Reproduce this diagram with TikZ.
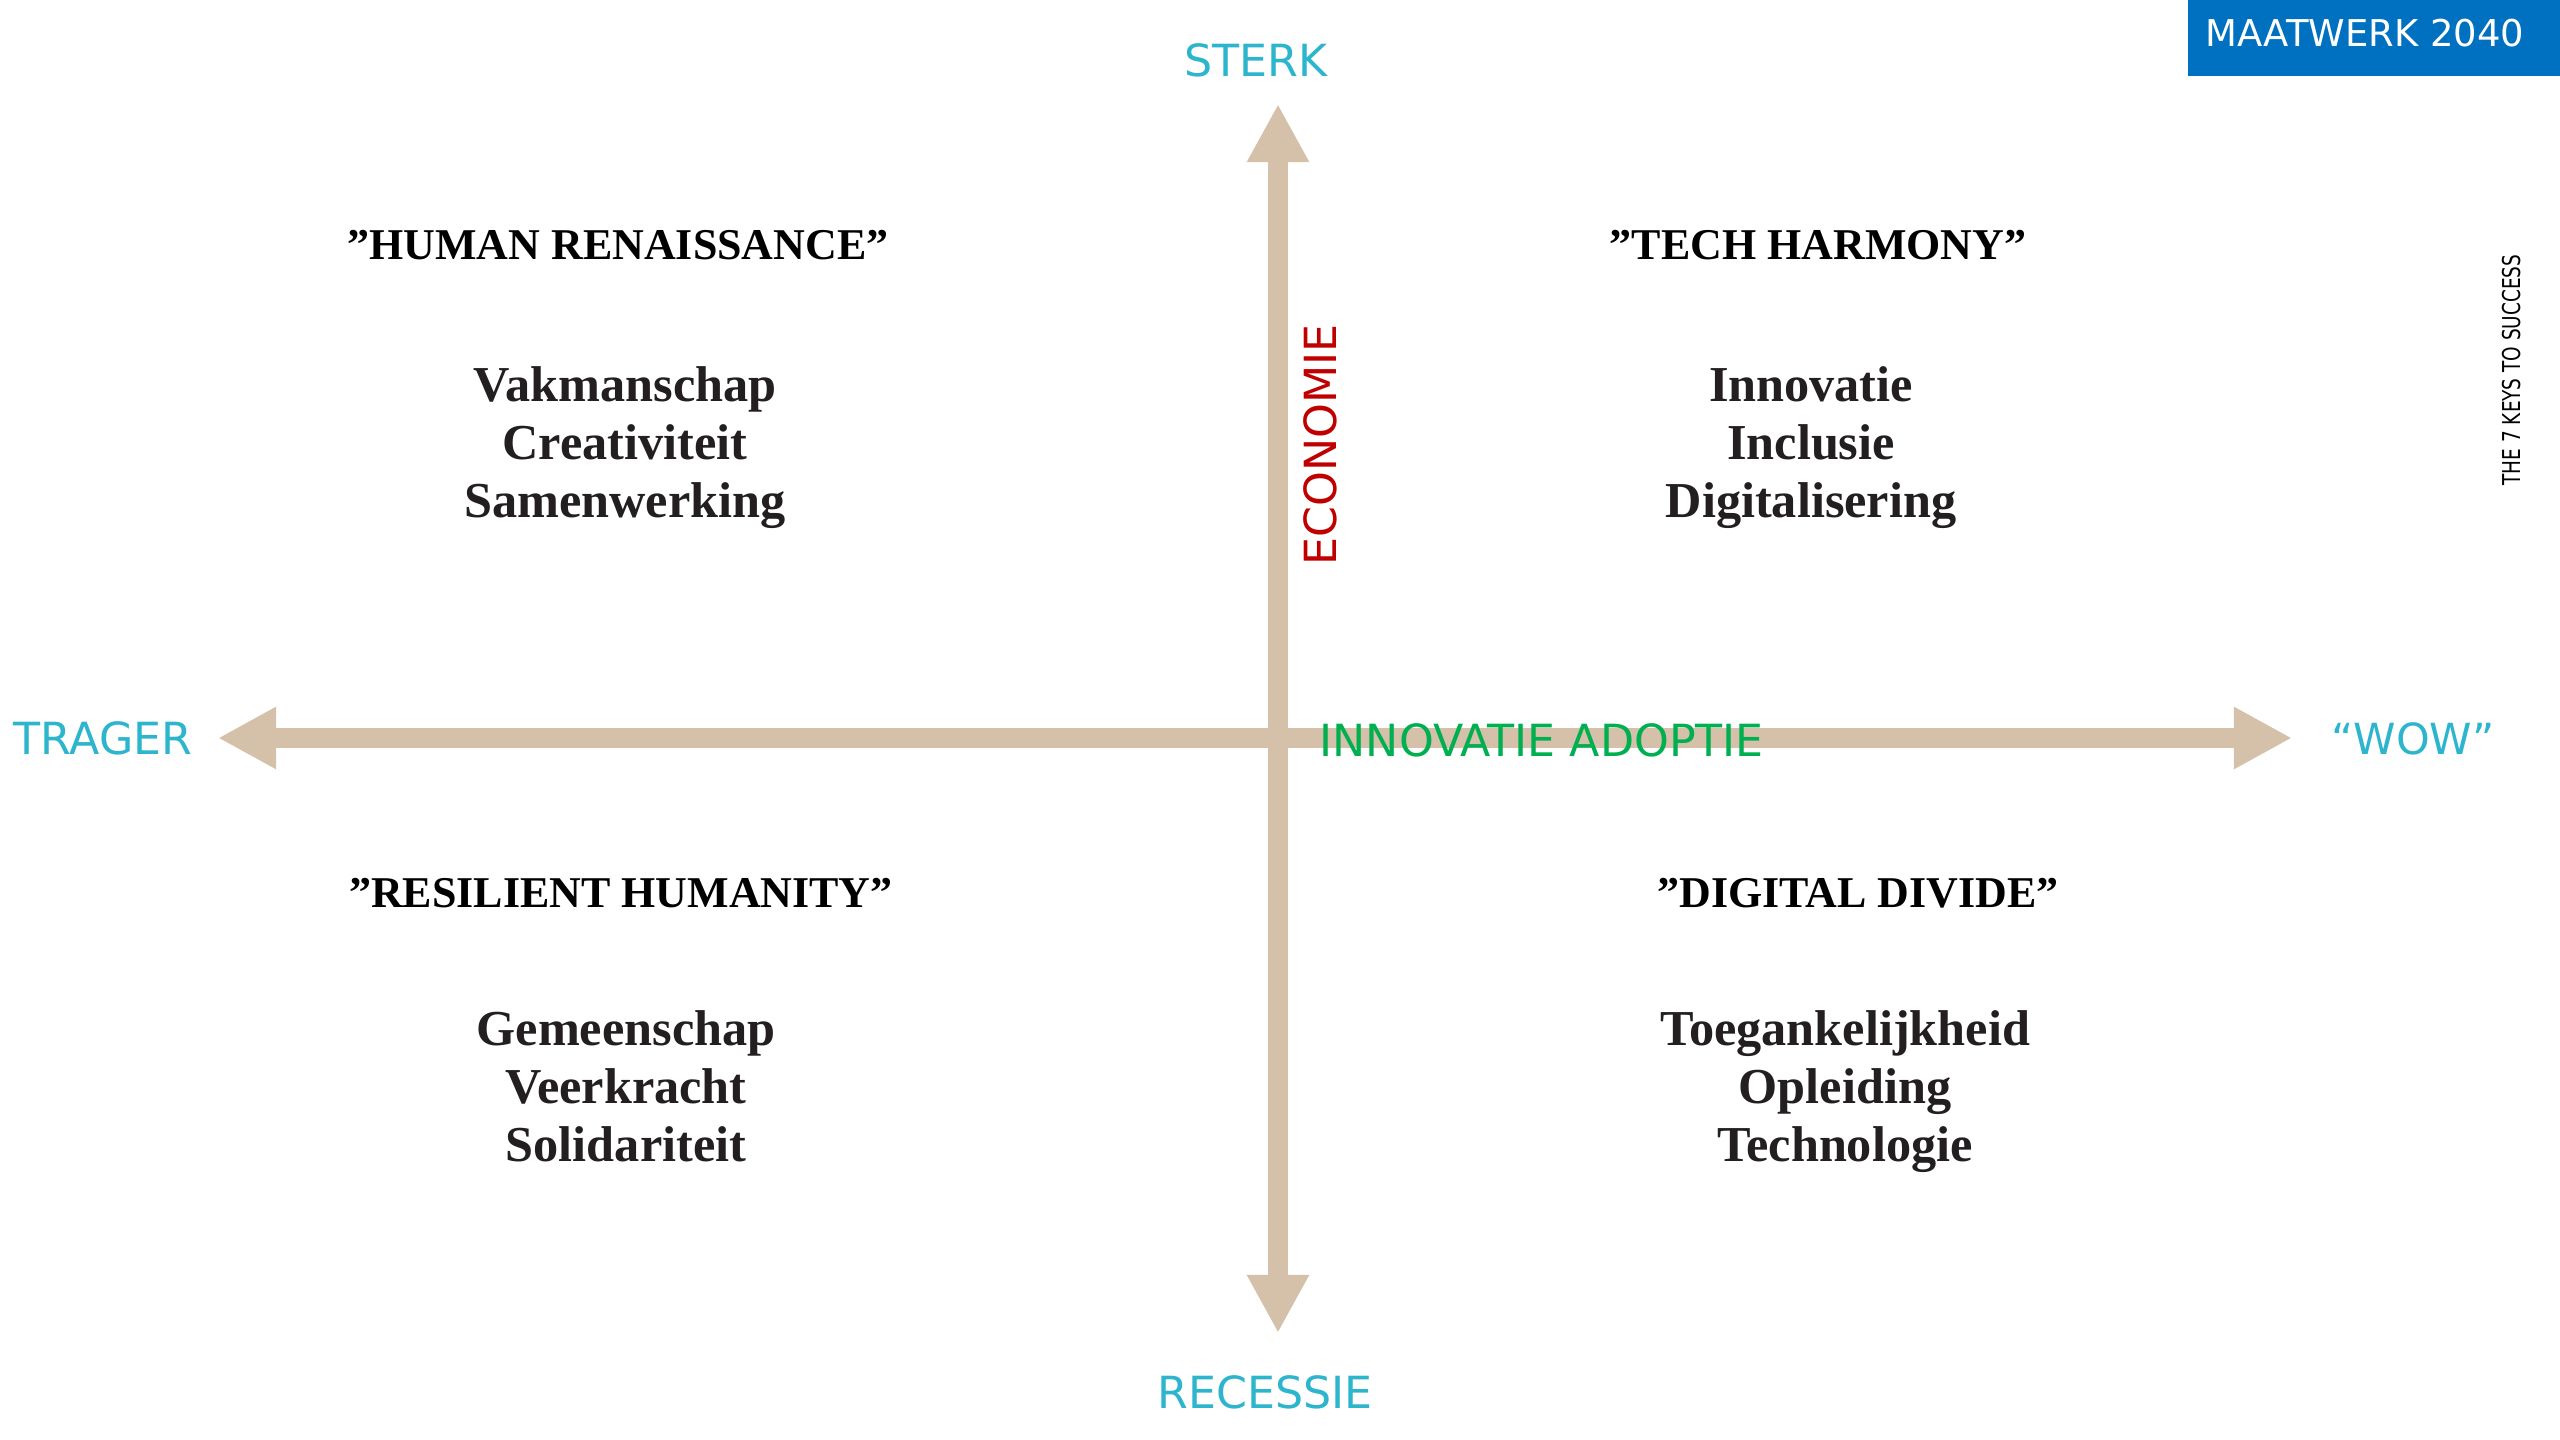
\documentclass[tikz,border=0pt]{standalone}
\usepackage{fontspec}
\setmainfont{Liberation Serif}
\newfontfamily\labelfont{DejaVu Sans}
\usetikzlibrary{arrows.meta}
\definecolor{axistan}{HTML}{D5C1A9}
\definecolor{poolcyan}{HTML}{2CB5CD}
\definecolor{ecored}{HTML}{C00000}
\definecolor{adoptgreen}{HTML}{00B050}
\definecolor{badgeblue}{HTML}{0070C0}
\definecolor{inkdark}{HTML}{231F20}
\begin{document}
\begin{tikzpicture}[x=0.01cm,y=-0.01cm,
    axis/.style={draw=axistan,line width=2mm,
      {Triangle[length=5.8mm,width=5.8mm]}-{Triangle[length=5.8mm,width=5.8mm]}},
    pole/.style={text=poolcyan,font=\labelfont\fontsize{12.6}{15}\selectfont,
      anchor=base,inner sep=0pt},
    scen/.style={font=\bfseries\fontsize{12.5}{15}\selectfont,anchor=base,inner sep=0pt},
    trait/.style={text=inkdark,font=\bfseries\fontsize{14.3}{17}\selectfont,
      anchor=base,inner sep=0pt}]
  \useasboundingbox (0,0) rectangle (2560,1440);
  \fill [white] (0,0) rectangle (2560,1440);
  % assen
  \coordinate (west) at (218,738);
  \coordinate (east) at (2292,738);
  \coordinate (north) at (1278,104);
  \coordinate (south) at (1278,1333);
  \draw [axis] (west) -- (east);
  \draw [axis] (south) -- (north);
  % polen
  \node [pole] (sterk) at (1256,77) {STERK};
  \node [pole] (recessie) at (1265,1408) {RECESSIE};
  \node [pole] (trager) at (103,755) {TRAGER};
  \node [pole,font=\labelfont\fontsize{12.2}{15}\selectfont] (wow) at (2413,755) {“WOW”};
  \node [pole,text=adoptgreen,anchor=base west] (adoptie) at (1319,757) {INNOVATIE ADOPTIE};
  \node [pole,text=ecored,anchor=center,rotate=90] (economie) at (1320,445) {ECONOMIE};
  % kader rechtsboven
  \fill [badgeblue] (2188,0) rectangle (2560,76);
  \node [text=white,font=\labelfont\fontsize{10.5}{12}\selectfont,anchor=base,inner sep=0pt]
    (maatwerk) at (2365,47) {MAATWERK 2040};
  \node [rotate=90,inner sep=0pt,font=\labelfont\fontsize{7}{8}\selectfont]
    (keys) at (2512,370) {\scalebox{0.75}[1]{THE 7 KEYS TO SUCCESS}};
  % scenario's
  \node [scen] (renaissance) at (618,260) {”HUMAN RENAISSANCE”};
  \node [trait] (vak) at (625,402) {Vakmanschap};
  \node [trait] (crea) at (625,460) {Creativiteit};
  \node [trait] (samen) at (625,518) {Samenwerking};
  \node [scen] (harmony) at (1818,260) {”TECH HARMONY”};
  \node [trait] (innov) at (1811,402) {Innovatie};
  \node [trait] (incl) at (1811,460) {Inclusie};
  \node [trait] (digi) at (1811,518) {Digitalisering};
  \node [scen] (resilient) at (621,907) {”RESILIENT HUMANITY”};
  \node [trait] (gemeen) at (626,1045) {Gemeenschap};
  \node [trait] (veer) at (626,1103) {Veerkracht};
  \node [trait] (soli) at (626,1161) {Solidariteit};
  \node [scen] (divide) at (1858,907) {”DIGITAL DIVIDE”};
  \node [trait] (toeg) at (1845,1045) {Toegankelijkheid};
  \node [trait] (opl) at (1845,1103) {Opleiding};
  \node [trait] (techno) at (1845,1161) {Technologie};
\end{tikzpicture}
\end{document}
